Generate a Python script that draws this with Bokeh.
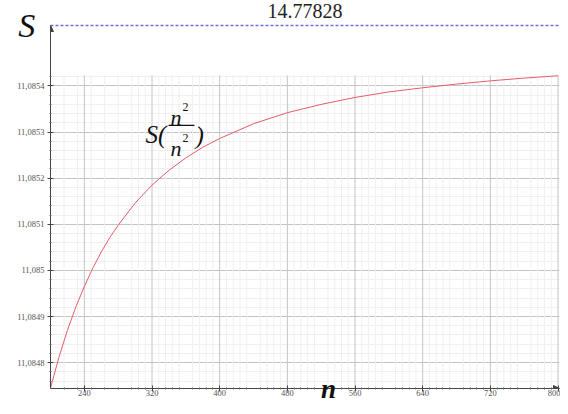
from bokeh.plotting import figure
from bokeh.models import (Range1d, FixedTicker, Label, Arrow, NormalHead, LinearAxis,
                          BoxAnnotation, ColumnDataSource)
from bokeh.embed import file_html
from bokeh.resources import INLINE

# ---- data ----
n_values = [200, 210, 220, 230, 240, 250, 260, 270, 280, 300, 320, 340, 360, 380,
            400, 440, 480, 520, 560, 600, 640, 680, 720, 760, 800]
s_values = [11.084745, 11.084812, 11.084870, 11.084921, 11.084965, 11.085005,
            11.085040, 11.085071, 11.085098, 11.085146, 11.085185, 11.085217,
            11.085244, 11.085267, 11.085286, 11.085318, 11.085342, 11.085360,
            11.085375, 11.085387, 11.085396, 11.085404, 11.085411, 11.085417,
            11.085422]
x_ticks = [240, 320, 400, 480, 560, 640, 720, 800]
x_minor = [216, 232, 248, 264, 280, 296, 304, 312, 328, 336, 344, 352, 368, 376,
           384, 392, 408, 416, 424, 432, 448, 456, 464, 472, 488, 496, 504, 512,
           528, 536, 544, 552, 568, 576, 584, 592, 608, 616, 624, 632, 648, 656,
           664, 672, 688, 696, 704, 712, 728, 736, 744, 752, 768, 776, 784, 792]
y_ticks = [11.0848, 11.0849, 11.0850, 11.0851, 11.0852, 11.0853, 11.0854]
y_minor = [11.08472, 11.08474, 11.08476, 11.08478, 11.08482, 11.08484, 11.08486,
           11.08488, 11.08492, 11.08494, 11.08496, 11.08498, 11.08502, 11.08504,
           11.08506, 11.08508, 11.08512, 11.08514, 11.08516, 11.08518, 11.08522,
           11.08524, 11.08526, 11.08528, 11.08532, 11.08534, 11.08536, 11.08538,
           11.08542]
y_tick_labels = ["11,0848", "11,0849", "11,085", "11,0851", "11,0852", "11,0853", "11,0854"]
asymptote_label = "14.77828"
x_title = "n"
y_title = "S"

W, H = 560, 406
BL, BR, BT, BB = 50, 1, 25, 17
FW, FH = W - BL - BR, H - BT - BB
PPX = (557.5 - BL) / 600.0      # pixels per unit of n
PPY = 462500.0                  # pixels per unit of S
X0 = 200.0
X1 = X0 + FW / PPX
Y0 = 11.084744
Y1 = Y0 + FH / PPY


def dx(px):  # picture pixel -> data x (for annotation placement)
    return X0 + (px - BL) / PPX


def dy(py):  # picture pixel -> data y
    return Y0 + (BT + FH - py) / PPY


p = figure(width=W, height=H, x_range=Range1d(X0, X1), y_range=Range1d(Y0, Y1),
           output_backend="svg", toolbar_location=None,
           min_border_left=BL, min_border_right=BR, min_border_top=BT,
           min_border_bottom=BB)
p.outline_line_color = None
p.background_fill_color = "white"
p.border_fill_color = "white"

serif = "'Liberation Serif'"

# axes
p.xaxis.ticker = FixedTicker(ticks=x_ticks, minor_ticks=x_minor)
p.yaxis.ticker = FixedTicker(ticks=y_ticks, minor_ticks=y_minor)
p.yaxis.major_label_overrides = {t: l for t, l in zip(y_ticks, y_tick_labels)}
for ax in (p.xaxis[0], p.yaxis[0]):
    ax.axis_line_color = "#444444"
    ax.major_tick_line_color = "#444444"
    ax.minor_tick_line_color = "#666666"
    ax.major_tick_in = 3
    ax.major_tick_out = 3
    ax.minor_tick_in = 1
    ax.minor_tick_out = 1
    ax.major_label_text_font = serif
    ax.major_label_text_font_size = "8.5px"
    ax.major_label_text_color = "#555555"
    ax.axis_label_text_font = serif
    ax.axis_label_text_font_style = "italic"
    ax.axis_label_text_color = "#111111"
p.xaxis.major_label_standoff = -2
p.yaxis.major_label_standoff = 3

# y title at the top end of the vertical axis
p.yaxis.axis_label = y_title
p.yaxis.axis_label_text_font_size = "34px"
p.yaxis.axis_label_orientation = "horizontal"
p.yaxis.axis_label_align = "end"
p.yaxis.axis_label_standoff = -21

# x title: a single labelled tick on a bare second bottom axis
n_title_at = dx(328)
title_axis = LinearAxis(ticker=FixedTicker(ticks=[n_title_at]),
                        major_label_overrides={n_title_at: x_title},
                        axis_line_color=None, major_tick_in=0, major_tick_out=0,
                        minor_tick_in=0, minor_tick_out=0,
                        major_label_text_font=serif, major_label_text_font_size="27px",
                        major_label_text_font_style="bold italic",
                        major_label_text_color="#111111", major_label_standoff=-25)
p.add_layout(title_axis, "below")

# asymptote: dashed blue line along the top edge with its value above it
top_axis = LinearAxis(ticker=FixedTicker(ticks=[]), axis_label=asymptote_label,
                      axis_line_color="#6f6fd8", axis_line_width=1.5,
                      axis_line_dash="3 2", major_tick_in=0, major_tick_out=0,
                      minor_tick_in=0, minor_tick_out=0,
                      axis_label_text_font=serif, axis_label_text_font_size="20px",
                      axis_label_text_font_style="normal",
                      axis_label_text_color="#222222", axis_label_standoff=8)
p.add_layout(top_axis, "above")

# grid
p.xgrid.visible = False
p.ygrid.grid_line_color = "#c4c4c4"
p.ygrid.grid_line_width = 1
p.ygrid.minor_grid_line_color = "#f0f0f0"
grid_top = dy(75)
p.segment(x0=x_minor, y0=[Y0] * len(x_minor), x1=x_minor, y1=[grid_top] * len(x_minor),
          line_color="#f0f0f0", line_width=1)
p.segment(x0=x_ticks, y0=[Y0] * len(x_ticks), x1=x_ticks, y1=[grid_top] * len(x_ticks),
          line_color="#c4c4c4", line_width=1)

# curve
src = ColumnDataSource(dict(n=n_values, s=s_values))
p.line("n", "s", source=src, line_color="#e45c6a", line_width=1)

# axis arrows
p.add_layout(Arrow(x_start=X0, y_start=dy(45), x_end=X0, y_end=Y1,
                   line_color="#444444", line_width=1,
                   end=NormalHead(size=6, fill_color="#444444", line_color="#444444")))
p.add_layout(Arrow(x_start=dx(540), y_start=Y0, x_end=X1, y_end=Y0,
                   line_color="#444444", line_width=1,
                   end=NormalHead(size=6, fill_color="#444444", line_color="#444444")))

# curve label S(n^2 / n^2)
p.add_layout(Label(x=dx(145), y=dy(134), text="S(", text_font=serif, text_font_size="25px",
                   text_font_style="italic", text_color="#111111", text_baseline="alphabetic"))
p.add_layout(Label(x=dx(170), y=dy(117), text="n", text_font=serif, text_font_size="22px",
                   text_font_style="italic", text_color="#111111", text_baseline="alphabetic"))
p.add_layout(Label(x=dx(182), y=dy(107), text="2", text_font=serif, text_font_size="12px",
                   text_color="#111111", text_baseline="alphabetic"))
p.add_layout(BoxAnnotation(left=dx(168), right=dx(194), top=dy(124.5), bottom=dy(125.8),
                           fill_color="#111111", fill_alpha=1, line_color=None))
p.add_layout(Label(x=dx(170), y=dy(148), text="n", text_font=serif, text_font_size="22px",
                   text_font_style="italic", text_color="#111111", text_baseline="alphabetic"))
p.add_layout(Label(x=dx(182), y=dy(138), text="2", text_font=serif, text_font_size="12px",
                   text_color="#111111", text_baseline="alphabetic"))
p.add_layout(Label(x=dx(195), y=dy(135), text=")", text_font=serif, text_font_size="25px",
                   text_font_style="italic", text_color="#111111", text_baseline="alphabetic"))

open("out.html", "w").write(file_html(p, INLINE))
